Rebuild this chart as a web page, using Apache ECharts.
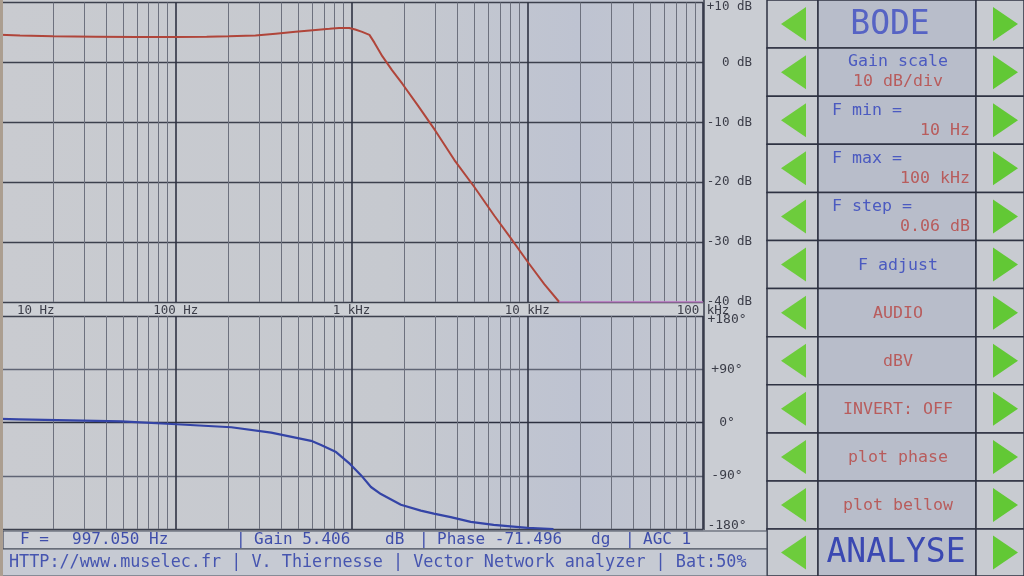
<!DOCTYPE html>
<html><head><meta charset="utf-8">
<script src="https://cdn.jsdelivr.net/npm/echarts@6/dist/echarts.min.js"></script>
<style>html,body{margin:0;padding:0;background:#c6c9cf;}#c{width:1024px;height:576px;}</style>
</head><body><div id="c"></div>
<script>
// ---------- data ----------
const freqTicks = [10, 100, 1000, 10000, 100000];
const freqTickLabels = ['10 Hz', '100 Hz', '1 kHz', '10 kHz', '100 kHz'];
const gainTicks = [10, 0, -10, -20, -30, -40];
const gainTickLabels = ['+10 dB', '0 dB', '-10 dB', '-20 dB', '-30 dB', '-40 dB'];
const phaseTicks = [180, 90, 0, -90, -180];
const phaseTickLabels = ['+180°', '+90°', '0°', '-90°', '-180°'];

const gainFreq = [10,13,20,35,60,100,150,200,250,284,370,480,625,750,850,970,1050,1150,1265,1350,1500,1700,1950,2400,3000,3850,5000,6500,8000,10000,12500,15200];
const gainDb   = [4.6,4.5,4.35,4.3,4.25,4.25,4.3,4.35,4.45,4.5,4.8,5.1,5.4,5.6,5.75,5.75,5.5,5.1,4.6,3.3,1.0,-1.3,-3.6,-7.3,-11.4,-16.3,-20.8,-25.6,-29.2,-33.2,-37,-40];
const floorFreq = [15200, 100000];
const floorDb   = [-40, -40];
const phaseFreq = [10,12.8,49,95,207,349,589,671,817,980,1132,1290,1470,1910,2480,2940,3670,4770,6440,10040,14100];
const phaseDeg  = [6,5.4,2,-2.5,-8,-17,-31,-38,-50,-70,-89,-109,-121,-139,-149,-154,-160,-168,-173,-178,-180];

const statusFreq = '997.050 Hz';
const statusGain = '5.406';
const statusPhase = '-71.496';
const statusAgc = '1';
const footerText = 'HTTP://www.muselec.fr | V. Thiernesse | Vector Network analyzer | Bat:50%';

const panelRows = [
  {big: 'BODE', color: '#5663c4'},
  {top: 'Gain scale', topAlign: 'center', bottom: '10 dB/div', bottomAlign: 'center'},
  {top: 'F min =', topAlign: 'left', bottom: '10 Hz', bottomAlign: 'right'},
  {top: 'F max =', topAlign: 'left', bottom: '100 kHz', bottomAlign: 'right'},
  {top: 'F step =', topAlign: 'left', bottom: '0.06 dB', bottomAlign: 'right'},
  {single: 'F adjust', color: '#4b5ac0'},
  {single: 'AUDIO', color: '#b85c5c'},
  {single: 'dBV', color: '#b85c5c'},
  {single: 'INVERT: OFF', color: '#b85c5c'},
  {single: 'plot phase', color: '#b85c5c'},
  {single: 'plot bellow', color: '#b85c5c'},
  {big: 'ANALYSE', color: '#3a48b2'}
];

// ---------- helpers ----------
const MONO = '"DejaVu Sans Mono", "Liberation Mono", monospace';
const zip = (xs, ys) => xs.map((x, i) => [x, ys[i]]);
const minorGrid = [];
for (let d = 10; d < 100000; d *= 10) for (let k = 2; k <= 9; k++) minorGrid.push({xAxis: d * k});
const minorMark = {
  silent: true, symbol: 'none', animation: false, z: 1,
  label: {show: false},
  lineStyle: {type: 'solid', color: '#6d717e', width: 1},
  emphasis: {disabled: true},
  data: minorGrid
};

const chart = echarts.init(document.getElementById('c'));

const BLUE = '#4b5ac0', RED = '#b85c5c';
const G = [];
// plot background
G.push({type: 'rect', z: -10, silent: true, shape: {x: 0, y: 0, width: 705, height: 532},
  style: {fill: {type: 'linear', x: 0, y: 0, x2: 1, y2: 0, colorStops: [
    {offset: 0, color: '#c9cbd0'}, {offset: 0.55, color: '#c6c9cf'}, {offset: 0.82, color: '#bec3d1'}, {offset: 1, color: '#c3c6cf'}]}}});
// label column
G.push({type: 'rect', z: -9, silent: true, shape: {x: 704, y: 0, width: 63, height: 532}, style: {fill: '#cacdd3'}});
G.push({type: 'line', z: -8, silent: true, shape: {x1: 704, y1: 0, x2: 704, y2: 530}, style: {stroke: '#3a3e4c', lineWidth: 1.5}});
// band between plots
G.push({type: 'rect', z: -9, silent: true, shape: {x: 0, y: 303, width: 704, height: 12}, style: {fill: '#cdd0d5'}});
// left bezel
G.push({type: 'rect', z: 20, silent: true, shape: {x: 0, y: 0, width: 3, height: 576}, style: {fill: '#ab9e90'}});
// status bar
G.push({type: 'rect', z: 10, silent: true, shape: {x: 3, y: 531, width: 764, height: 18}, style: {fill: '#cdd0d6', stroke: '#474c5a', lineWidth: 1.2}});
G.push({type: 'rect', z: 10, silent: true, shape: {x: 0, y: 549, width: 767, height: 27}, style: {fill: '#c6cad3', stroke: '#474c5a', lineWidth: 1.2}});
const st = (x, t) => G.push({type: 'text', z: 11, silent: true, x: x, y: 540,
  style: {text: t, fill: '#3f4eab', font: '16px ' + MONO, verticalAlign: 'middle', align: 'left'}});
st(20, 'F =');
st(72, statusFreq);
st(236, '|');
st(254, 'Gain ' + statusGain);
st(385, 'dB');
st(419, '|');
st(437, 'Phase ' + statusPhase);
st(591, 'dg');
st(625, '|');
st(643, 'AGC ' + statusAgc);
G.push({type: 'text', z: 11, silent: true, x: 9, y: 563,
  style: {text: footerText, fill: '#4655b0', font: '16.8px ' + MONO, verticalAlign: 'middle', align: 'left'}});

// right panel
const rowH = 48.1;
panelRows.forEach((r, i) => {
  const y = i * rowH, h = (i === panelRows.length - 1) ? 576 - y : rowH, cy = y + h / 2;
  const cell = (x, w, fill) => G.push({type: 'rect', z: 5, silent: true, shape: {x: x, y: y, width: w, height: h},
    style: {fill: fill, stroke: '#2e3242', lineWidth: 1.5}});
  cell(767, 51, '#c8cbd1');
  cell(818, 158, '#b8bdca');
  cell(976, 48, '#c8cbd1');
  G.push({type: 'polygon', z: 6, silent: true, shape: {points: [[781, cy], [806, cy - 17], [806, cy + 17]]}, style: {fill: '#6dcc3c'}});
  G.push({type: 'polygon', z: 6, silent: true, shape: {points: [[993, cy - 17], [1018, cy], [993, cy + 17]]}, style: {fill: '#62c835'}});
  const txt = (x, yy, t, c, size, align) => G.push({type: 'text', z: 7, silent: true, x: x, y: yy,
    style: {text: t, fill: c, font: size + 'px ' + MONO, align: align, verticalAlign: 'middle'}});
  if (r.big) txt(r.big === 'BODE' ? 890 : 896, cy + 1, r.big, r.color, 33, 'center');
  else if (r.single) txt(898, cy + 1, r.single, r.color, 16.6, 'center');
  else {
    const ax = a => a === 'center' ? 898 : (a === 'left' ? 832 : 970);
    txt(ax(r.topAlign), y + 14, r.top, BLUE, 16.6, r.topAlign);
    txt(ax(r.bottomAlign), y + 34, r.bottom, RED, 16.6, r.bottomAlign);
  }
});

const logIdx = v => Math.round(Math.log10(v)) - 1;

const option = {
  animation: false,
  backgroundColor: '#c6c9cf',
  grid: [
    {left: -2, width: 705, top: 2, height: 300},
    {left: -2, width: 705, top: 316, height: 213}
  ],
  xAxis: [
    {type: 'log', gridIndex: 0, min: 10, max: 100000, logBase: 10,
      axisLine: {show: false}, axisTick: {show: false},
      splitLine: {show: true, lineStyle: {color: '#2f3343', width: 1.6}},
      axisLabel: {show: true, margin: 2, fontFamily: MONO, fontSize: 12.5, color: '#3b3d48',
        alignMinLabel: 'left',
        formatter: v => { const i = logIdx(v); return i === 0 ? '{p|' + freqTickLabels[0] + '}' : (freqTickLabels[i] || ''); },
        rich: {p: {padding: [0, 0, 0, 17], fontFamily: MONO, fontSize: 12.5, color: '#3b3d48'}}}},
    {type: 'log', gridIndex: 1, min: 10, max: 100000, logBase: 10,
      axisLine: {show: false}, axisTick: {show: false}, axisLabel: {show: false},
      splitLine: {show: true, lineStyle: {color: '#2f3343', width: 1.6}}}
  ],
  yAxis: [
    {type: 'value', gridIndex: 0, position: 'right', min: -40, max: 10, interval: 10,
      axisLine: {show: false}, axisTick: {show: false},
      splitLine: {lineStyle: {color: '#3c404d', width: 1.4}},
      axisLabel: {margin: 49, align: 'right', fontFamily: MONO, fontSize: 12.5, color: '#3b3d48',
        formatter: v => { const i = gainTicks.indexOf(Math.round(v)); return i === 0 ? '{t|' + gainTickLabels[0] + '}' : (gainTickLabels[i] || ''); },
        rich: {t: {padding: [8, 0, 0, 0], fontFamily: MONO, fontSize: 12.5, color: '#3b3d48'}}}},
    {type: 'value', gridIndex: 1, position: 'right', min: -180, max: 180, interval: 90,
      axisLine: {show: false}, axisTick: {show: false},
      splitLine: {lineStyle: {color: ['#3c404d', '#5f6474', '#2c3040', '#5f6474', '#3c404d'], width: 1.4}},
      axisLabel: {margin: 24, align: 'center', fontFamily: MONO, fontSize: 13, color: '#3b3d48',
        formatter: v => {
          const i = phaseTicks.indexOf(Math.round(v));
          if (i === 0) return '{t|' + phaseTickLabels[0] + '}';
          if (i === phaseTicks.length - 1) return '{b|' + phaseTickLabels[i] + '}';
          return phaseTickLabels[i] || '';
        },
        rich: {t: {padding: [7, 0, 0, 0], fontFamily: MONO, fontSize: 13, color: '#3b3d48'},
               b: {padding: [0, 0, 6, 0], fontFamily: MONO, fontSize: 13, color: '#3b3d48'}}}}
  ],
  series: [
    {name: 'Gain', type: 'line', xAxisIndex: 0, yAxisIndex: 0, z: 5, showSymbol: false, smooth: false,
      lineStyle: {color: '#b0453a', width: 2}, data: zip(gainFreq, gainDb), markLine: minorMark},
    {name: 'Gain floor', type: 'line', xAxisIndex: 0, yAxisIndex: 0, z: 5, showSymbol: false,
      lineStyle: {color: '#c27bc8', width: 1.6}, data: zip(floorFreq, floorDb)},
    {name: 'Phase', type: 'line', xAxisIndex: 1, yAxisIndex: 1, z: 5, showSymbol: false, smooth: false,
      lineStyle: {color: '#3444a6', width: 2.2}, data: zip(phaseFreq, phaseDeg), markLine: minorMark}
  ],
  graphic: {elements: G}
};
chart.setOption(option);
</script>
</body></html>
